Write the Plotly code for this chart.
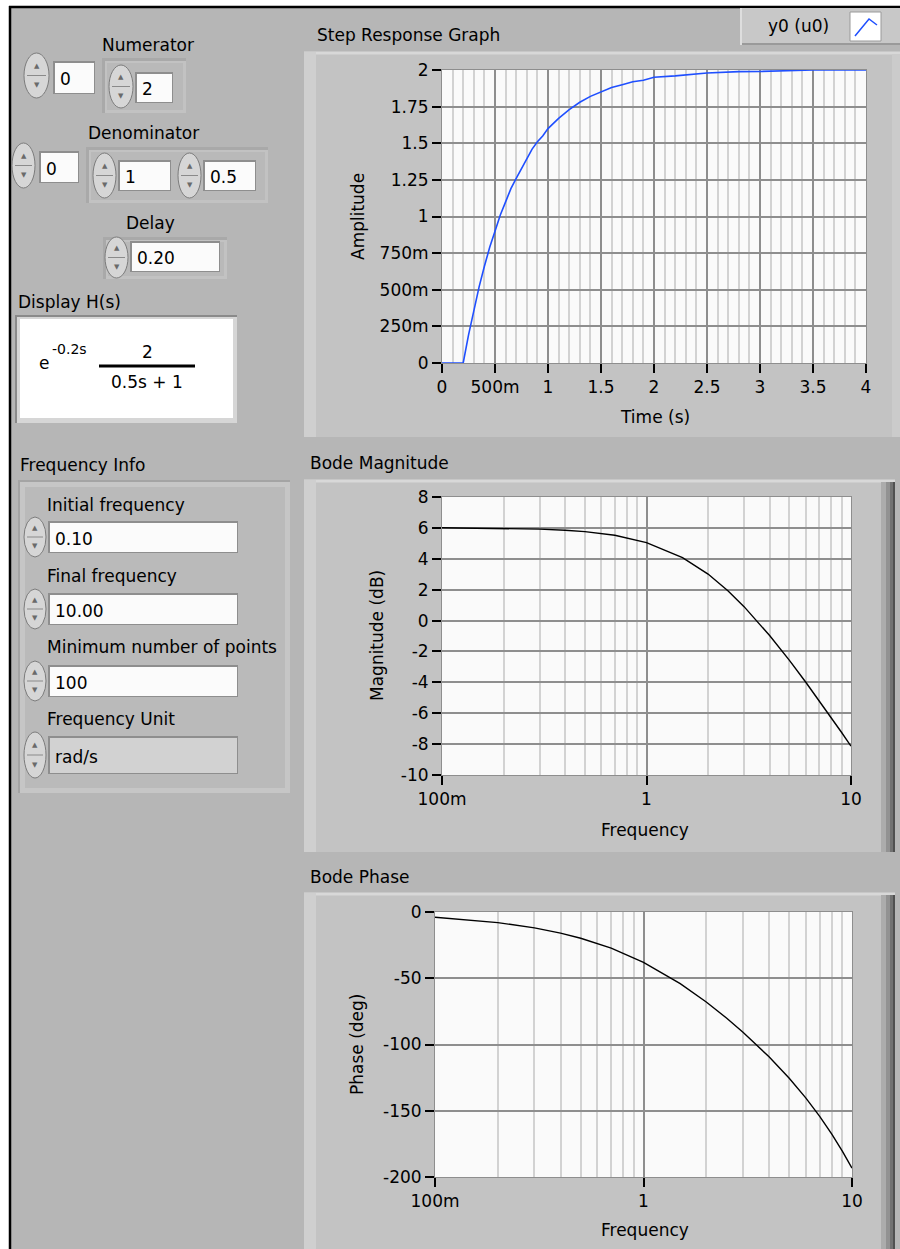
import plotly.graph_objects as go

# ---------------- data ----------------
step_time = [0, 0.2, 0.25, 0.3, 0.35, 0.4, 0.45, 0.5, 0.55, 0.6, 0.65, 0.7, 0.75, 0.8,
             0.85, 0.9, 0.95, 1.0, 1.1, 1.2, 1.3, 1.4, 1.5, 1.6, 1.7, 1.8, 1.9, 2.0,
             2.2, 2.4, 2.5, 2.8, 3.0, 3.5, 4.0]
step_amp = [0, 0, 0.19, 0.36, 0.52, 0.66, 0.79, 0.90, 1.01, 1.10, 1.19, 1.26, 1.33, 1.40,
            1.46, 1.51, 1.55, 1.60, 1.67, 1.73, 1.78, 1.82, 1.85, 1.88, 1.90, 1.92, 1.93, 1.95,
            1.96, 1.975, 1.98, 1.989, 1.99, 2.0, 2.0]

freq = [0.1, 0.2, 0.3, 0.4, 0.5, 0.7, 1, 1.5, 2, 2.5, 3, 4, 5, 6, 7, 8, 9, 10]
mag_db = [6.01, 5.98, 5.92, 5.85, 5.76, 5.52, 5.05, 4.08, 3.01, 1.93, 0.90, -0.97,
          -2.58, -3.98, -5.20, -6.28, -7.25, -8.13]
phase_deg = [-4.0, -8.0, -12.0, -15.9, -19.8, -27.3, -38.0, -54.1, -67.9, -80.0, -90.7,
             -109.3, -125.5, -140.3, -154.3, -167.6, -180.6, -193.3]

step_xticks = [0, 0.5, 1, 1.5, 2, 2.5, 3, 3.5, 4]
step_xlabels = ["0", "500m", "1", "1.5", "2", "2.5", "3", "3.5", "4"]
step_yticks = [0, 0.25, 0.5, 0.75, 1, 1.25, 1.5, 1.75, 2]
step_ylabels = ["0", "250m", "500m", "750m", "1", "1.25", "1.5", "1.75", "2"]
freq_ticks = [0.1, 1, 10]
freq_labels = ["100m", "1", "10"]
freq_minor = [0.2, 0.3, 0.4, 0.5, 0.6, 0.7, 0.8, 0.9, 2, 3, 4, 5, 6, 7, 8, 9]
mag_ticks = [-10, -8, -6, -4, -2, 0, 2, 4, 6, 8]
mag_labels = ["-10", "-8", "-6", "-4", "-2", "0", "2", "4", "6", "8"]
phase_ticks = [-200, -150, -100, -50, 0]
phase_labels = ["-200", "-150", "-100", "-50", "0"]

# ---------------- helpers ----------------
W, H = 900, 1249
FONT = "DejaVu Sans"
BG = "#b6b6b6"
PLOT_BG = "#fafafa"


def X(p):
    return p / W


def Y(p):
    return 1 - p / H


shapes = []
annotations = []


def rect(x0, y0, x1, y1, fill, line=None, lw=1):
    shapes.append(dict(type="rect", xref="paper", yref="paper", layer="below",
                       x0=X(x0), x1=X(x1), y0=Y(y1), y1=Y(y0), fillcolor=fill,
                       line=dict(color=line or fill, width=lw if line else 0)))


def hline(x0, x1, y, color, w=1):
    shapes.append(dict(type="line", xref="paper", yref="paper", layer="below",
                       x0=X(x0), x1=X(x1), y0=Y(y), y1=Y(y), line=dict(color=color, width=w)))


def vline(x, y0, y1, color, w=1):
    shapes.append(dict(type="line", xref="paper", yref="paper", layer="below",
                       x0=X(x), x1=X(x), y0=Y(y0), y1=Y(y1), line=dict(color=color, width=w)))


def text(x, y, s, size=17, anchor="left", color="black", angle=0):
    annotations.append(dict(xref="paper", yref="paper", x=X(x), y=Y(y), text=s,
                            showarrow=False, xanchor=anchor, yanchor="middle",
                            textangle=angle, font=dict(family=FONT, size=size, color=color)))


def spinner(x0, y0, x1, y1):
    shapes.append(dict(type="circle", xref="paper", yref="paper", layer="below",
                       x0=X(x0), x1=X(x1), y0=Y(y1), y1=Y(y0), fillcolor="#d6d6d6",
                       line=dict(color="#7c7c7c", width=1)))
    cy = (y0 + y1) / 2
    cx = (x0 + x1) / 2
    hline(x0 + 3, x1 - 3, cy, "#8a8a8a", 1)
    text(cx, cy - (y1 - y0) * 0.22, "▲", size=7, anchor="center", color="#6a6a6a")
    text(cx, cy + (y1 - y0) * 0.22, "▼", size=7, anchor="center", color="#6a6a6a")


def numbox(x0, y0, x1, y1, s, fill="#fbfbfb"):
    rect(x0 - 2, y0 - 2, x1 + 1, y1 + 1, "#8e8e8e")
    rect(x0, y0, x1, y1, fill)
    text(x0 + 3, (y0 + y1) / 2 + 1, s, size=17)


def frame(x0, y0, x1, y1):
    rect(x0, y0, x1, y1, "#a9a9a9")
    rect(x0 + 3, y0 + 3, x1, y1, "#c2c2c2")
    rect(x0 + 5, y0 + 5, x1 - 3, y1 - 3, "#b9b9b9")


def graph_frame(x0, y0, x1, y1, dark_edge=True):
    rect(x0, y0, x1, y1, "#c3c3c3")
    hline(x0, x1, y0 + 1, "#d8d8d8", 3)
    rect(x0, y0, x0 + 12, y1, "#cfcfcf")
    if dark_edge:
        rect(x1 - 14, y0 + 2, x1 - 9, y1, "#acacac")
        rect(x1 - 9, y0 + 2, x1 - 5, y1, "#929292")
        rect(x1 - 5, y0 + 2, x1 - 2, y1, "#727272")
        rect(x1 - 2, y0 + 2, x1, y1, "#505050")
    else:
        rect(x1 - 8, y0 + 2, x1, y1, "#cbcbcb")


# ---------------- panel background ----------------
rect(10, 7, 900, 1249, BG)
vline(10, 6, 1249, "#000000", 2.5)
hline(9, 900, 7, "#000000", 2.5)

# ---------------- left controls ----------------
text(148, 45, "Numerator", anchor="center")
spinner(24, 53, 49, 98)
numbox(55, 63, 94, 93, "0")
frame(102, 58, 186, 113)
spinner(109, 65, 133, 108)
numbox(137, 74, 172, 102, "2")

text(143, 133, "Denominator", anchor="center")
spinner(12, 143, 35, 188)
numbox(41, 153, 78, 182, "0")
frame(86, 147, 268, 203)
spinner(93, 153, 116, 198)
numbox(120, 162, 170, 190, "1")
spinner(178, 153, 201, 198)
numbox(205, 162, 255, 190, "0.5")

text(150, 223, "Delay", anchor="center")
frame(103, 237, 227, 279)
spinner(105, 237, 128, 278)
numbox(132, 243, 219, 271, "0.20")

text(16, 302, "Display H(s)")
rect(15, 315, 237, 423, "#8a8a8a")
rect(17, 317, 237, 423, "#d6d6d6")
rect(20, 319, 233, 418, "#ffffff")
text(37, 363, "e", size=17)
text(50, 349, "-0.2s", size=14)
text(147, 352, "2", size=17, anchor="center")
hline(99, 195, 366, "#000000", 3)
text(147, 382, "0.5s + 1", size=17, anchor="center")

text(18, 465, "Frequency Info")
rect(18, 480, 290, 793, "#a4a4a4")
rect(20, 482, 290, 793, "#c6c6c6")
rect(25, 487, 285, 788, "#bababa")
freq_info = [("Initial frequency", "0.10", 505, 523, 552, "#fbfbfb"),
             ("Final frequency", "10.00", 576, 595, 624, "#fbfbfb"),
             ("Minimum number of points", "100", 647, 667, 696, "#fbfbfb"),
             ("Frequency Unit", "rad/s", 719, 738, 773, "#d2d2d2")]
for lab, val, ly, by0, by1, fill in freq_info:
    text(45, ly, lab)
    spinner(24, by0 - 6, 46, by1 + 5)
    numbox(50, by0, 237, by1, val, fill=fill)

# ---------------- graph frames ----------------
graph_frame(304, 52, 900, 437, dark_edge=False)
text(315, 35, "Step Response Graph")
rect(740, 8, 900, 45, "#c8c8c8")
hline(740, 900, 44, "#9a9a9a", 2)
vline(741, 8, 45, "#dedede", 2)
text(798, 26, "y0 (u0)", anchor="center")
rect(850, 12, 881, 41, "#ffffff", "#9a9a9a", 1)
shapes.append(dict(type="path", xref="paper", yref="paper", layer="above",
                   path="M {},{} L {},{} L {},{}".format(X(855), Y(36), X(869), Y(19), X(877), Y(25)),
                   line=dict(color="#1f4fff", width=1.5)))

graph_frame(304, 480, 895, 852)
text(308, 463, "Bode Magnitude")
graph_frame(304, 893, 895, 1249)
text(308, 877, "Bode Phase")

# plot-area backgrounds (drawn inside each subplot, under its grid)
for ax in ("x", "x2", "x3"):
    ya = ax.replace("x", "y")
    shapes.append(dict(type="rect", xref=ax + " domain", yref=ya + " domain", layer="below",
                       x0=0, x1=1, y0=0, y1=1, fillcolor=PLOT_BG, line=dict(width=0)))

# axis titles
text(358, 217, "Amplitude", anchor="center", angle=-90)
text(655, 417, "Time (s)", anchor="center")
text(377, 636, "Magnitude (dB)", anchor="center", angle=-90)
text(645, 830, "Frequency", anchor="center")
text(357, 1045, "Phase (deg)", anchor="center", angle=-90)
text(645, 1230, "Frequency", anchor="center")

# ---------------- traces ----------------
fig = go.Figure()
fig.add_trace(go.Scatter(x=step_time, y=step_amp, mode="lines", xaxis="x", yaxis="y",
                         line=dict(color="#1f4fff", width=1.6), name="y0 (u0)", showlegend=False))
fig.add_trace(go.Scatter(x=freq, y=mag_db, mode="lines", xaxis="x2", yaxis="y2",
                         line=dict(color="#000000", width=1.4), showlegend=False))
fig.add_trace(go.Scatter(x=freq, y=phase_deg, mode="lines", xaxis="x3", yaxis="y3",
                         line=dict(color="#000000", width=1.4), showlegend=False))

MAJ = "#8e8e8e"
MIN = "#d2d2d2"
tickfont = dict(family=FONT, size=17, color="black")
common = dict(showgrid=True, gridcolor=MAJ, gridwidth=2, zeroline=False, showline=True,
              linecolor=MAJ, linewidth=1, mirror=True, ticks="outside", ticklen=9,
              tickwidth=2, tickcolor="black", tickfont=tickfont, fixedrange=True,
              automargin=False)

fig.update_layout(
    width=W, height=H, autosize=False, margin=dict(l=0, r=0, t=0, b=0, pad=0),
    paper_bgcolor="#ffffff", plot_bgcolor=PLOT_BG, showlegend=False,
    shapes=shapes, annotations=annotations,
    xaxis=dict(domain=[X(442), X(866)], anchor="y", range=[0, 4], tickmode="array",
               tickvals=step_xticks, ticktext=step_xlabels,
               minor=dict(dtick=0.1, tick0=0, showgrid=True, gridcolor=MIN, gridwidth=2),
               **common),
    yaxis=dict(domain=[Y(363), Y(70)], anchor="x", range=[0, 2], tickmode="array",
               tickvals=step_yticks, ticktext=step_ylabels, **common),
    xaxis2=dict(domain=[X(442), X(851)], anchor="y2", type="log", range=[-1, 1],
                tickmode="array", tickvals=freq_ticks, ticktext=freq_labels,
                minor=dict(tickmode="array", tickvals=freq_minor, showgrid=True,
                           gridcolor=MIN, gridwidth=2),
                **common),
    yaxis2=dict(domain=[Y(775), Y(497)], anchor="x2", range=[-10, 8], tickmode="array",
                tickvals=mag_ticks, ticktext=mag_labels, **common),
    xaxis3=dict(domain=[X(435), X(852)], anchor="y3", type="log", range=[-1, 1],
                tickmode="array", tickvals=freq_ticks, ticktext=freq_labels,
                minor=dict(tickmode="array", tickvals=freq_minor, showgrid=True,
                           gridcolor=MIN, gridwidth=2),
                **common),
    yaxis3=dict(domain=[Y(1177), Y(912)], anchor="x3", range=[-200, 0], tickmode="array",
                tickvals=phase_ticks, ticktext=phase_labels, **common),
)

fig.write_html("out.html", config={"responsive": False, "displayModeBar": False},
               post_script="document.body.style.margin='0';document.body.style.padding='0';"
                           "document.documentElement.style.overflow='hidden';")
